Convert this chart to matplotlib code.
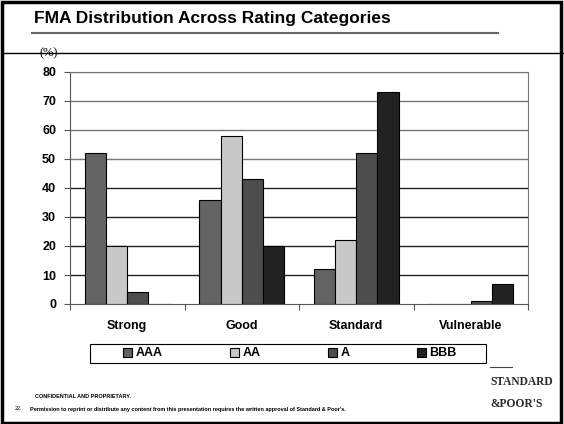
import numpy as np
import matplotlib.pyplot as plt
from matplotlib.lines import Line2D
from matplotlib.patches import Rectangle

categories = ['Strong', 'Good', 'Standard', 'Vulnerable']
series = ['AAA', 'AA', 'A', 'BBB']
aaa = [52, 36, 12, 0]
aa = [20, 58, 22, 0]
a = [4, 43, 52, 1]
bbb = [0, 20, 73, 7]
colors = ['#636363', '#c8c8c8', '#4d4d4d', '#222222']

W, H = 564, 424
fig = plt.figure(figsize=(W / 100, H / 100), dpi=100)

def fx(px):
    return px / W

def fy(py):
    return 1 - py / H

# page frame and header lines
fig.add_artist(Rectangle((0.003, 0.003), 0.992, 0.993, transform=fig.transFigure,
                         fill=False, lw=2.5, ec='black'))
fig.add_artist(Line2D([fx(3), 1], [fy(53), fy(53)], transform=fig.transFigure,
                      color='black', lw=1))
fig.add_artist(Line2D([fx(32), fx(498)], [fy(33), fy(33)], transform=fig.transFigure,
                      color='#666666', lw=1.5))
fig.text(fx(34), fy(19), 'FMA Distribution Across Rating Categories', fontsize=12.5,
         fontweight='bold', va='center', ha='left', family='Liberation Sans')

ax = fig.add_axes([fx(70), fy(304), fx(528) - fx(70), fy(72) - fy(304)])
x = np.arange(len(categories))
bw = 0.185
for i, (vals, c) in enumerate(zip([aaa, aa, a, bbb], colors)):
    ax.bar(x + (i - 1.5) * bw, vals, bw, color=c, edgecolor='black', lw=0.8,
           label=series[i], zorder=3)

ax.set_ylim(0, 80)
ax.set_xlim(-0.5, 3.5)
ax.set_yticks(range(0, 81, 10))
for v in range(10, 81, 10):
    ax.axhline(v, color='#222222' if v <= 40 else '#777777', lw=1, zorder=1)
ax.set_xticks(np.arange(-0.5, 3.6, 1))
ax.set_xticklabels([])
ax.tick_params(axis='x', length=4, direction='out', color='#555555')
ax.tick_params(axis='y', length=4, direction='out', color='#555555', pad=6)
for lbl in ax.get_yticklabels():
    lbl.set_fontweight('bold')
    lbl.set_fontsize(9)
    lbl.set_family('Liberation Sans')
for i, cat in enumerate(categories):
    ax.text(i, -7.5, cat, ha='center', va='center', fontsize=9, fontweight='bold',
            family='Liberation Sans')
for s in ['top', 'right']:
    ax.spines[s].set_color('#777777')
for s in ['left', 'bottom']:
    ax.spines[s].set_color('#555555')

fig.text(fx(40), fy(53), '(%)', fontsize=9, family='Liberation Serif', va='center')

# legend: items without frame, box drawn separately
fig.add_artist(Rectangle((fx(90), fy(363)), fx(486) - fx(90), fy(344) - fy(363),
                         transform=fig.transFigure, fill=False, ec='black', lw=0.8))
leg = fig.legend(loc='center', bbox_to_anchor=(fx(290), fy(353.5)), ncol=4,
                 frameon=False, handlelength=0.7, handleheight=0.7,
                 columnspacing=5.4, handletextpad=0.3, borderpad=0.1,
                 prop={'weight': 'bold', 'size': 9, 'family': 'Liberation Sans'})

fig.text(fx(35), fy(397), 'CONFIDENTIAL AND PROPRIETARY.', fontsize=4.0,
         fontweight='bold', va='center', family='Liberation Sans')
fig.text(fx(15), fy(409), '22.', fontsize=4.0, va='center', family='Liberation Sans')
fig.text(fx(30), fy(409), "Permission to reprint or distribute any content from this "
         "presentation requires the written approval of Standard & Poor's.",
         fontsize=4.0, fontweight='bold', va='center', family='Liberation Sans')
fig.add_artist(Line2D([fx(490), fx(512)], [fy(367), fy(367)], transform=fig.transFigure,
                      color='#444444', lw=0.8))
fig.text(fx(490), fy(382), 'STANDARD', fontsize=8.3, fontweight='bold', va='center',
         family='Liberation Serif', color='#2a2a2a')
fig.text(fx(490), fy(404), '&POOR\'S', fontsize=8.3, fontweight='bold', va='center',
         family='Liberation Serif', color='#2a2a2a')

fig.savefig('out.png', dpi=100)
